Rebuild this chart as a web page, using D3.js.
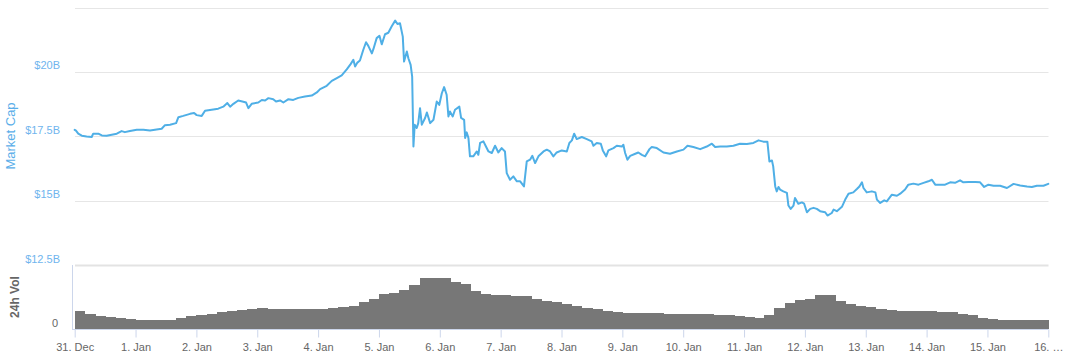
<!DOCTYPE html>
<html>
<head>
<meta charset="utf-8">
<script src="https://cdn.jsdelivr.net/npm/d3@7"></script>
<style>
  html, body { margin: 0; padding: 0; background: #ffffff; }
  svg { display: block; font-family: "Liberation Sans", Arial, Helvetica, sans-serif; }
</style>
</head>
<body>
<svg id="chart" width="1074" height="361"></svg>
<script>
// ---------------- DATA ----------------
// Market cap (billions USD), hours since 31 Dec 00:00
const capHours = [0,0.5,1.4,2.8,4.7,6.7,7.3,9.3,10.7,12.6,14.6,16.6,18.5,19.8,21.8,24.5,27.1,29.7,32.3,34.3,35.6,37.6,40.0,40.9,42.8,45.5,47.1,48.1,50.1,51.4,54.0,56.6,58.6,60.2,61.3,62.6,64.5,66.5,67.6,68.5,69.8,72.4,73.8,75.1,76.4,78.3,79.4,81.0,82.3,84.3,86.2,88.2,90.8,93.5,95.5,96.8,99.4,101.4,103.4,105.3,107.3,108.9,109.9,110.6,111.5,112.5,113.8,114.9,115.8,117.2,117.8,119.1,120.2,121.1,122.4,123.7,125.1,126.4,127.3,128.3,129.4,129.9,131.0,131.6,132.5,133.1,133.6,134.1,134.9,135.5,136.2,136.9,138.2,138.9,140.2,141.5,142.8,143.8,144.8,145.7,146.7,147.4,148.0,149.1,150.0,151.7,152.4,153.6,154.0,154.6,155.3,155.9,157.2,158.6,159.2,159.9,161.2,162.2,163.2,164.5,165.8,167.1,168.4,169.7,170.4,171.7,173.0,174.4,175.7,177.2,178.3,179.6,180.5,181.6,182.9,184.9,186.2,187.5,188.8,190.1,192.1,194.1,195.1,196.1,197.0,198.0,200.0,202.0,203.9,204.6,205.9,207.5,208.3,209.6,210.5,212.5,213.8,215.8,216.4,217.1,218.0,219.1,221.1,222.3,223.7,225.0,226.7,227.6,229.6,232.2,234.8,237.5,240.1,241.7,244.0,246.7,249.3,251.3,252.6,254.6,257.2,259.8,262.4,265.1,267.7,269.7,271.6,273.2,274.0,275.0,275.5,276.3,276.9,277.6,278.2,279.5,280.9,281.5,282.4,283.5,284.1,285.4,286.8,287.7,288.8,290.1,291.4,292.7,294.0,296.0,296.9,298.6,299.3,300.6,302.6,303.9,305.2,307.1,308.5,309.5,310.5,311.1,312.4,314.4,315.8,316.4,317.7,319.3,320.3,322.3,324.3,325.6,327.5,328.8,330.8,332.8,334.8,336.7,338.1,339.4,341.3,343.3,345.3,347.2,349.2,350.5,352.5,355.2,357.1,358.7,360.4,362.4,365.0,367.7,370.3,372.9,375.6,377.5,379.5,382.1,384.0];
const capValues = [17.75,17.72,17.60,17.52,17.49,17.47,17.60,17.60,17.53,17.52,17.56,17.60,17.70,17.66,17.70,17.75,17.75,17.72,17.76,17.79,17.93,17.95,18.01,18.24,18.29,18.37,18.40,18.32,18.29,18.49,18.53,18.57,18.65,18.79,18.65,18.76,18.89,18.84,18.81,18.59,18.76,18.81,18.91,18.89,18.98,18.94,18.85,18.89,18.81,18.94,18.91,18.99,19.04,19.08,19.20,19.33,19.46,19.65,19.76,19.86,20.10,20.31,20.47,20.21,20.36,20.44,20.85,21.15,21.01,20.72,20.88,21.31,21.40,21.07,21.46,21.52,21.78,21.99,21.86,21.89,21.37,20.40,20.79,20.53,20.27,19.82,17.10,17.95,17.82,18.01,18.59,17.95,18.21,18.42,18.01,18.14,18.85,18.72,19.17,19.41,19.11,18.27,18.46,18.27,18.53,18.65,18.21,18.14,17.43,17.65,17.43,16.72,16.72,16.91,16.78,17.24,17.30,17.10,16.91,16.85,17.13,16.87,17.04,16.91,16.07,15.81,15.94,15.75,15.75,15.55,16.52,16.59,16.74,16.46,16.72,16.91,16.98,16.91,16.72,16.87,16.95,16.91,17.24,17.34,17.60,17.39,17.47,17.39,17.30,17.13,17.24,17.21,16.95,16.72,16.95,17.04,17.13,17.10,17.17,16.85,16.59,16.74,16.82,16.87,16.78,16.72,17.00,17.08,17.04,16.87,16.82,16.91,16.98,17.13,17.08,17.00,17.10,17.21,17.08,17.10,17.10,17.13,17.21,17.20,17.24,17.34,17.29,17.29,16.52,16.56,16.33,15.55,15.36,15.53,15.43,15.36,15.30,14.81,14.68,14.81,15.10,14.88,14.93,14.88,14.55,14.68,14.72,14.68,14.59,14.55,14.42,14.52,14.65,14.59,14.76,15.04,15.27,15.32,15.45,15.55,15.71,15.49,15.32,15.36,15.32,15.04,14.91,15.01,14.97,15.23,15.19,15.27,15.43,15.62,15.66,15.62,15.69,15.75,15.81,15.62,15.62,15.62,15.71,15.69,15.79,15.71,15.72,15.72,15.71,15.53,15.62,15.58,15.58,15.49,15.65,15.59,15.55,15.53,15.58,15.58,15.65];

// 24h volume (billions USD), one value per 4-hour block starting 31 Dec 00:00
const volValues = [0.55,0.48,0.42,0.36,0.33,0.30,0.28,0.27,0.27,0.27,0.34,0.41,0.45,0.48,0.53,0.56,0.59,0.64,0.67,0.63,0.63,0.63,0.63,0.63,0.62,0.65,0.69,0.73,0.84,0.95,1.08,1.14,1.22,1.38,1.58,1.59,1.58,1.48,1.42,1.19,1.08,1.06,1.05,1.04,1.02,0.95,0.89,0.84,0.79,0.73,0.67,0.62,0.56,0.53,0.51,0.51,0.49,0.49,0.48,0.48,0.47,0.47,0.46,0.45,0.44,0.42,0.39,0.34,0.44,0.66,0.81,0.90,0.95,1.06,1.06,0.88,0.77,0.72,0.69,0.63,0.58,0.57,0.56,0.55,0.55,0.53,0.52,0.48,0.44,0.33,0.30,0.29,0.27,0.27,0.27,0.27];
const volBlockHours = 4;

const capTicks = [12.5, 15, 17.5, 20, 22.5];
const capTickLabels = ["$12.5B", "$15B", "$17.5B", "$20B", ""];
const dayLabels = ["31. Dec","1. Jan","2. Jan","3. Jan","4. Jan","5. Jan","6. Jan","7. Jan","8. Jan","9. Jan","10. Jan","11. Jan","12. Jan","13. Jan","14. Jan","15. Jan","16. \u2026"];

// ---------------- CHART ----------------
const HOUR = 3600 * 1000;
const start = Date.UTC(2017, 11, 31);
const end = start + 16 * 24 * HOUR;

const svg = d3.select("#chart");
const x = d3.scaleUtc().domain([start, end]).range([74.7, 1048.3]);
const yCap = d3.scaleLinear().domain([12.5, 22.5]).range([265, 7.5]);
const yVol = d3.scaleLinear().domain([0, 2]).range([329, 265]);

const gridX0 = 75, gridX1 = 1048.5;

// Market cap gridlines
svg.append("g").selectAll("line").data(capTicks.slice(1)).join("line")
  .attr("x1", gridX0).attr("x2", gridX1)
  .attr("y1", d => Math.round(yCap(d)) + 0.5).attr("y2", d => Math.round(yCap(d)) + 0.5)
  .attr("stroke", "#e6e6e6").attr("stroke-width", 1);

// top border of volume pane (shared with $12.5B line)
svg.append("line")
  .attr("x1", gridX0).attr("x2", gridX1)
  .attr("y1", Math.round(yVol(2)) + 0.5).attr("y2", Math.round(yVol(2)) + 0.5)
  .attr("stroke", "#e3e3e3").attr("stroke-width", 2);

// Market cap axis labels
svg.append("g").selectAll("text").data(capTicks).join("text")
  .attr("x", 60).attr("y", d => yCap(d) - 2.5)
  .attr("text-anchor", "end")
  .attr("font-size", 11).attr("fill", "#6fb5ee")
  .text((d, i) => capTickLabels[i]);

// Market cap axis title
svg.append("text")
  .attr("transform", "translate(15,136) rotate(-90)")
  .attr("text-anchor", "middle")
  .attr("font-size", 13).attr("fill", "#5aaee9")
  .text("Market Cap");

// Volume bars
const volG = svg.append("g").attr("shape-rendering", "crispEdges");
volG.selectAll("rect").data(volValues).join("rect")
  .attr("x", (d, i) => x(start + i * volBlockHours * HOUR))
  .attr("width", (d, i) => x(start + (i + 1) * volBlockHours * HOUR) - x(start + i * volBlockHours * HOUR) + 0.6)
  .attr("y", d => yVol(d))
  .attr("height", d => yVol(0) - yVol(d))
  .attr("fill", "#777777");

// Volume axis
svg.append("line")
  .attr("x1", 72.5).attr("x2", 72.5).attr("y1", 265).attr("y2", 329)
  .attr("stroke", "#ccd6eb").attr("stroke-width", 1);
svg.append("text")
  .attr("x", 58).attr("y", yVol(0) - 2)
  .attr("text-anchor", "end").attr("font-size", 11).attr("fill", "#666666")
  .text("0");
svg.append("text")
  .attr("transform", "translate(19,297) rotate(-90)")
  .attr("text-anchor", "middle")
  .attr("font-size", 12).attr("font-weight", "bold").attr("fill", "#666666")
  .text("24h Vol");

// X axis
const dayTicks = d3.range(0, 17).map(i => new Date(start + i * 24 * HOUR));
const xAxis = d3.axisBottom(x)
  .tickValues(dayTicks)
  .tickFormat((d, i) => dayLabels[i])
  .tickSize(8)
  .tickSizeOuter(0)
  .tickPadding(6);
const xg = svg.append("g").attr("transform", "translate(0,329.5)").call(xAxis);
xg.select(".domain").attr("stroke", "#ccd6eb").attr("d", "M72,0H1048.5");
xg.selectAll(".tick line").attr("stroke", "#ccd6eb");
xg.selectAll(".tick text").attr("fill", "#666666").attr("font-size", 11)
  .attr("font-family", "Liberation Sans, Arial, sans-serif");

// Market cap line
const capData = capHours.map((h, i) => ({ t: start + h * HOUR, v: capValues[i] }));
const line = d3.line().x(d => x(d.t)).y(d => yCap(d.v));
svg.append("path")
  .datum(capData)
  .attr("d", line)
  .attr("fill", "none")
  .attr("stroke", "#4fafe6")
  .attr("stroke-width", 2)
  .attr("stroke-linejoin", "round")
  .attr("stroke-linecap", "round");
</script>
</body>
</html>
